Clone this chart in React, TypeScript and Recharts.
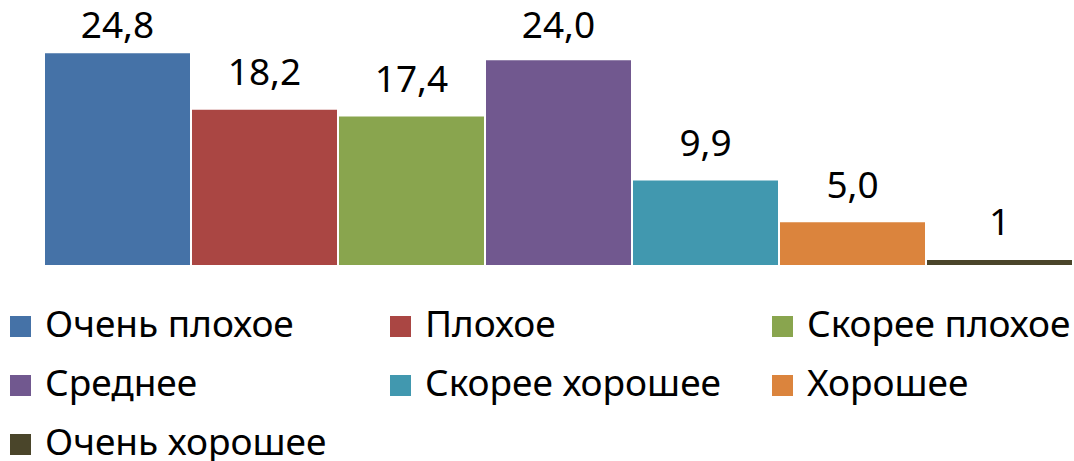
import React from 'react';
import { BarChart, Bar, XAxis, YAxis, Legend, LabelList } from 'recharts';

const seriesNames = [
  'Очень плохое',
  'Плохое',
  'Скорее плохое',
  'Среднее',
  'Скорее хорошее',
  'Хорошее',
  'Очень хорошее',
];
const values = [24.8, 18.2, 17.4, 24.0, 9.9, 5.0, 0.6];
const labels = ['24,8', '18,2', '17,4', '24,0', '9,9', '5,0', '1'];
const colors = ['#4572A7', '#AA4643', '#89A54E', '#71588F', '#4198AF', '#DB843D', '#4A452A'];

const keys = seriesNames.map((_, i) => `s${i}`);
const row: Record<string, any> = { name: '' };
keys.forEach((k, i) => {
  row[k] = values[i];
});
const data = [row];

const FONT = '"Noto Sans", sans-serif';

const makeLabel = (i: number) => (props: any) => {
  const { x, y, width } = props;
  const cx = Number(x) + Number(width) / 2;
  const by = Math.max(Number(y) - 24.5, 38);
  return (
    <text x={cx} y={by} textAnchor="middle" fontSize={37} fontFamily={FONT} fill="#000">
      {labels[i]}
    </text>
  );
};

const LegendContent = () => (
  <div
    style={{
      display: 'grid',
      gridTemplateColumns: '380px 382px 300px',
      gridAutoRows: '36px',
      rowGap: '23px',
      fontFamily: FONT,
    }}
  >
    {seriesNames.map((n, i) => (
      <div key={n} style={{ display: 'flex', alignItems: 'center', whiteSpace: 'nowrap', height: 36 }}>
        <span
          style={{
            display: 'inline-block',
            width: 21,
            height: 21,
            background: colors[i],
            marginRight: 14,
            flex: '0 0 auto',
          }}
        />
        <span style={{ fontSize: 37, lineHeight: '36px', color: '#000', position: 'relative', top: -3 }}>{n}</span>
      </div>
    ))}
  </div>
);

export default function App() {
  return (
    <div style={{ position: 'absolute', left: 0, top: 0, width: 1074, height: 461, background: '#fff' }}>
      <BarChart
        width={1074}
        height={461}
        data={data}
        margin={{ top: 26, right: 0, bottom: 196, left: 45 }}
        barCategoryGap={0}
        barGap={2}
      >
        <XAxis dataKey="name" tick={false} tickLine={false} axisLine={{ stroke: '#D9D9D9', strokeWidth: 1.5 }} height={0} />
        <YAxis hide domain={[0, 28]} />
        <Legend
          layout="horizontal"
          verticalAlign="middle"
          align="center"
          width={1064}
          wrapperStyle={{ left: 10, top: 308, width: 1064 }}
          content={LegendContent}
        />
        {keys.map((k, i) => (
          <Bar key={k} dataKey={k} name={seriesNames[i]} fill={colors[i]} isAnimationActive={false}>
            <LabelList dataKey={k} content={makeLabel(i)} />
          </Bar>
        ))}
      </BarChart>
    </div>
  );
}
